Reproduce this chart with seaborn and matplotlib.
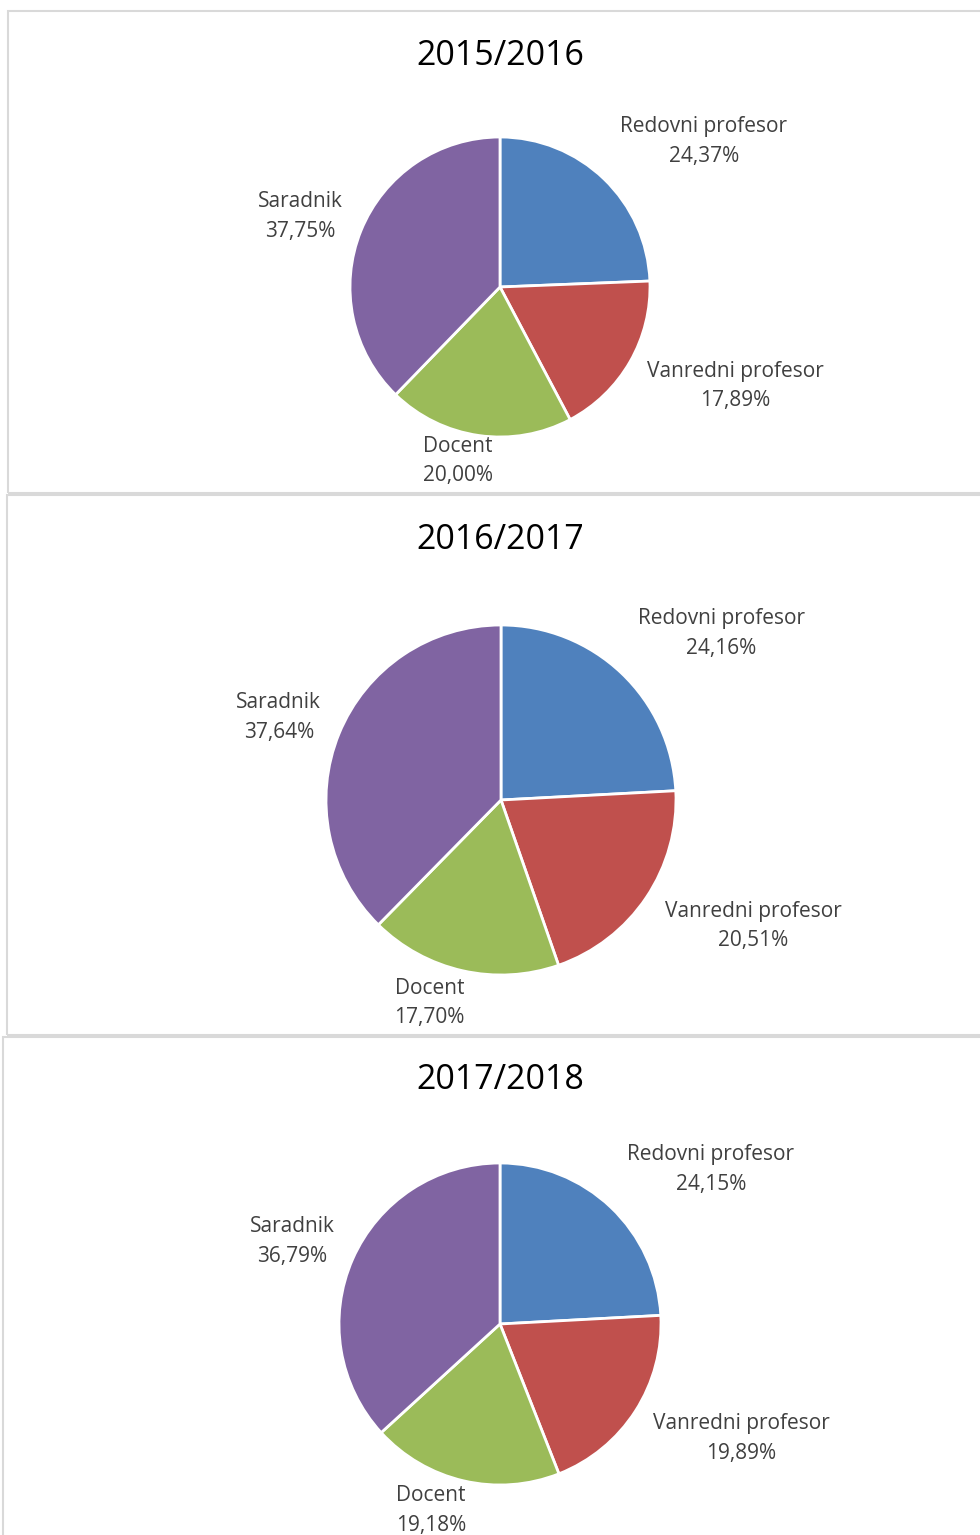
import matplotlib
matplotlib.use("Agg")
import matplotlib.pyplot as plt
import seaborn as sns
from matplotlib.patches import Rectangle

# ==========================
# Data
# ==========================

years = ["2015/2016", "2016/2017", "2017/2018"]
categories = ["Redovni profesor", "Vanredni profesor", "Docent", "Saradnik"]
share_2015 = [24.37, 17.89, 20.00, 37.75]
share_2016 = [24.16, 20.51, 17.70, 37.64]
share_2017 = [24.15, 19.89, 19.18, 36.79]
shares = [share_2015, share_2016, share_2017]

# ==========================
# Layout (pixels)
# ==========================

W, H = 980, 1535
panels = [(8, 11, 1000, 482), (7, 495, 1000, 540), (3, 1037, 1000, 520)]
centers = [(500, 287, 150), (501, 800, 175), (500, 1324, 161)]
title_y = [56, 540, 1080]
# label offsets in units of the pie radius
label_pos = [
    [(1.36, 0.97), (1.57, -0.66), (-0.28, -1.16), (-1.33, 0.47)],
    [(1.26, 0.95), (1.44, -0.72), (-0.41, -1.16), (-1.27, 0.47)],
    [(1.31, 0.96), (1.50, -0.71), (-0.43, -1.16), (-1.29, 0.51)],
]

sns.set_theme(style="white")
plt.rcParams["font.family"] = ["Open Sans", "DejaVu Sans"]
colors = sns.color_palette(["#4F81BD", "#C0504D", "#9BBB59", "#8064A2"])

fig = plt.figure(figsize=(W / 100, H / 100), dpi=100)

for i in range(3):
    # panel border
    x0, y0, w, h = panels[i]
    fig.patches.append(Rectangle((x0 / W, 1 - (y0 + h) / H), w / W, h / H,
                                 transform=fig.transFigure, fill=False,
                                 edgecolor="#D9D9D9", linewidth=1.5))

    # pie
    cx, cy, r = centers[i]
    ax = fig.add_axes([(cx - r) / W, 1 - (cy + r) / H, 2 * r / W, 2 * r / H])
    ax.pie(shares[i], colors=colors, startangle=90, counterclock=False,
           radius=1, wedgeprops=dict(edgecolor="white", linewidth=2))
    ax.set_xlim(-1, 1)
    ax.set_ylim(-1, 1)
    ax.axis("off")

    # data labels
    for cat, val, (dx, dy) in zip(categories, shares[i], label_pos[i]):
        txt = cat + "\n" + f"{val:.2f}%".replace(".", ",")
        ax.text(dx, dy, txt, ha="center", va="center", fontsize=15,
                color="#404040", linespacing=1.55, clip_on=False)

    fig.text(500 / W, 1 - title_y[i] / H, years[i],
             ha="center", va="center", fontsize=24.5, color="black")

fig.savefig("out.png", dpi=100)
